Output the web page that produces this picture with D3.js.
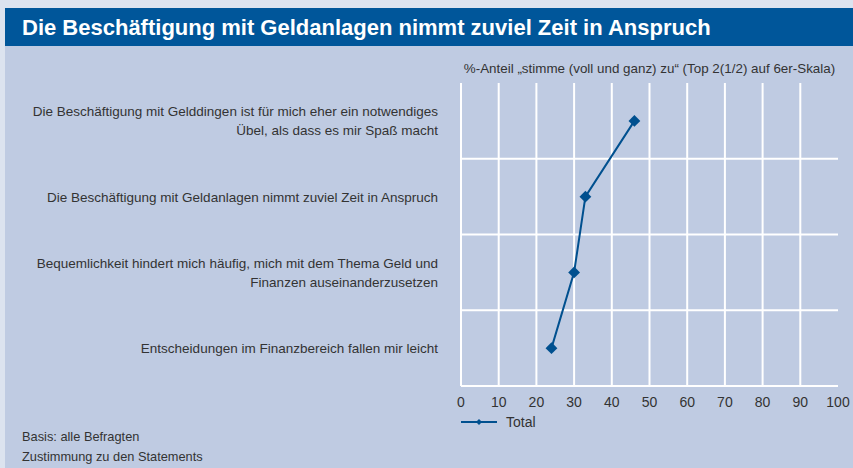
<!DOCTYPE html>
<html>
<head>
<meta charset="utf-8">
<script src="https://cdn.jsdelivr.net/npm/d3@7"></script>
<style>
  html, body { margin: 0; padding: 0; background: #dce3ef; }
  svg { display: block; }
  text { font-family: "Liberation Sans Narrow", "Liberation Sans", sans-serif; }
</style>
</head>
<body>
<svg id="chart"></svg>
<script>
const title = 'Die Beschäftigung mit Geldanlagen nimmt zuviel Zeit in Anspruch';
const axisTitle = '%-Anteil „stimme (voll und ganz) zu“ (Top 2(1/2) auf 6er-Skala)';
const categories = [
  ['Die Beschäftigung mit Gelddingen ist für mich eher ein notwendiges', 'Übel, als dass es mir Spaß macht'],
  ['Die Beschäftigung mit Geldanlagen nimmt zuviel Zeit in Anspruch'],
  ['Bequemlichkeit hindert mich häufig, mich mit dem Thema Geld und', 'Finanzen auseinanderzusetzen'],
  ['Entscheidungen im Finanzbereich fallen mir leicht']
];
const totalValues = [46, 33, 30, 24];
const xTicks = [0, 10, 20, 30, 40, 50, 60, 70, 80, 90, 100];
const seriesName = 'Total';
const footnotes = ['Basis: alle Befragten', 'Zustimmung zu den Statements'];

const createChart = () => {
  const width = 853;
  const height = 468;
  const margin = { top: 83, right: 15, bottom: 82, left: 461 };

  const svg = d3.select('#chart')
    .attr('width', width)
    .attr('height', height);

  // panel + title bar
  svg.append('rect')
    .attr('x', 5).attr('y', 8)
    .attr('width', width - 5).attr('height', height - 8)
    .attr('fill', '#bfcbe2');

  svg.append('rect')
    .attr('x', 5).attr('y', 8)
    .attr('width', width - 5).attr('height', 38)
    .attr('fill', '#00569a');

  svg.append('text')
    .attr('x', 22).attr('y', 35)
    .attr('fill', '#fff')
    .attr('font-size', 22)
    .attr('font-weight', 'bold')
    .text(title);

  const x = d3.scaleLinear()
    .domain([0, 100])
    .range([margin.left, width - margin.right]);

  const y = d3.scaleBand()
    .domain(d3.range(categories.length))
    .range([margin.top, height - margin.bottom]);

  const grid = svg.append('g')
    .attr('stroke', '#fff')
    .attr('stroke-width', 2);

  grid.selectAll('line.v')
    .data(xTicks.filter(d => d < 100))
    .join('line')
    .attr('class', 'v')
    .attr('x1', d => x(d)).attr('x2', d => x(d))
    .attr('y1', margin.top).attr('y2', height - margin.bottom);

  grid.selectAll('line.h')
    .data(d3.range(1, categories.length + 1))
    .join('line')
    .attr('class', 'h')
    .attr('x1', x(0)).attr('x2', x(100))
    .attr('y1', d => y.step() * d + margin.top)
    .attr('y2', d => y.step() * d + margin.top);

  svg.append('g')
    .selectAll('text')
    .data(xTicks)
    .join('text')
    .attr('x', d => x(d))
    .attr('y', height - margin.bottom + 21)
    .attr('text-anchor', 'middle')
    .attr('font-size', 14)
    .attr('fill', '#333')
    .text(d => d);

  svg.append('text')
    .attr('x', (x(0) + x(100)) / 2)
    .attr('y', 73)
    .attr('text-anchor', 'middle')
    .attr('font-size', 13.4)
    .attr('fill', '#333')
    .text(axisTitle);

  const labels = svg.append('g')
    .selectAll('text')
    .data(categories)
    .join('text')
    .attr('text-anchor', 'end')
    .attr('font-size', 13.5)
    .attr('fill', '#333')
    .attr('transform', (d, i) => `translate(438,${y(i) + y.bandwidth() / 2 + 5 - (d.length - 1) * 9.5})`);

  labels.selectAll('tspan')
    .data(d => d)
    .join('tspan')
    .attr('x', 0)
    .attr('dy', (d, i) => i ? 19 : 0)
    .text(d => d);

  const line = d3.line()
    .x(d => x(d))
    .y((d, i) => y(i) + y.bandwidth() / 2);

  svg.append('path')
    .datum(totalValues)
    .attr('fill', 'none')
    .attr('stroke', '#00508f')
    .attr('stroke-width', 2)
    .attr('d', line);

  const diamond = d3.symbol().type(d3.symbolSquare).size(70);

  svg.append('g')
    .selectAll('path')
    .data(totalValues)
    .join('path')
    .attr('fill', '#00508f')
    .attr('d', diamond)
    .attr('transform', (d, i) => `translate(${x(d)},${y(i) + y.bandwidth() / 2}) rotate(45)`);

  // legend
  const legend = svg.append('g').attr('transform', `translate(${x(0)},422)`);
  legend.append('line')
    .attr('x1', 0).attr('x2', 36)
    .attr('stroke', '#00508f').attr('stroke-width', 2);
  legend.append('path')
    .attr('d', d3.symbol().type(d3.symbolSquare).size(18))
    .attr('transform', 'translate(18,0) rotate(45)')
    .attr('fill', '#00508f');
  legend.append('text')
    .attr('x', 45).attr('y', 5)
    .attr('font-size', 14)
    .attr('fill', '#333')
    .text(seriesName);

  svg.append('g')
    .selectAll('text')
    .data(footnotes)
    .join('text')
    .attr('x', 22)
    .attr('y', (d, i) => 441 + i * 20)
    .attr('font-size', 12.8)
    .attr('fill', '#333')
    .text(d => d);
};

window.addEventListener('DOMContentLoaded', () => {
  createChart();
});
</script>
</body>
</html>
